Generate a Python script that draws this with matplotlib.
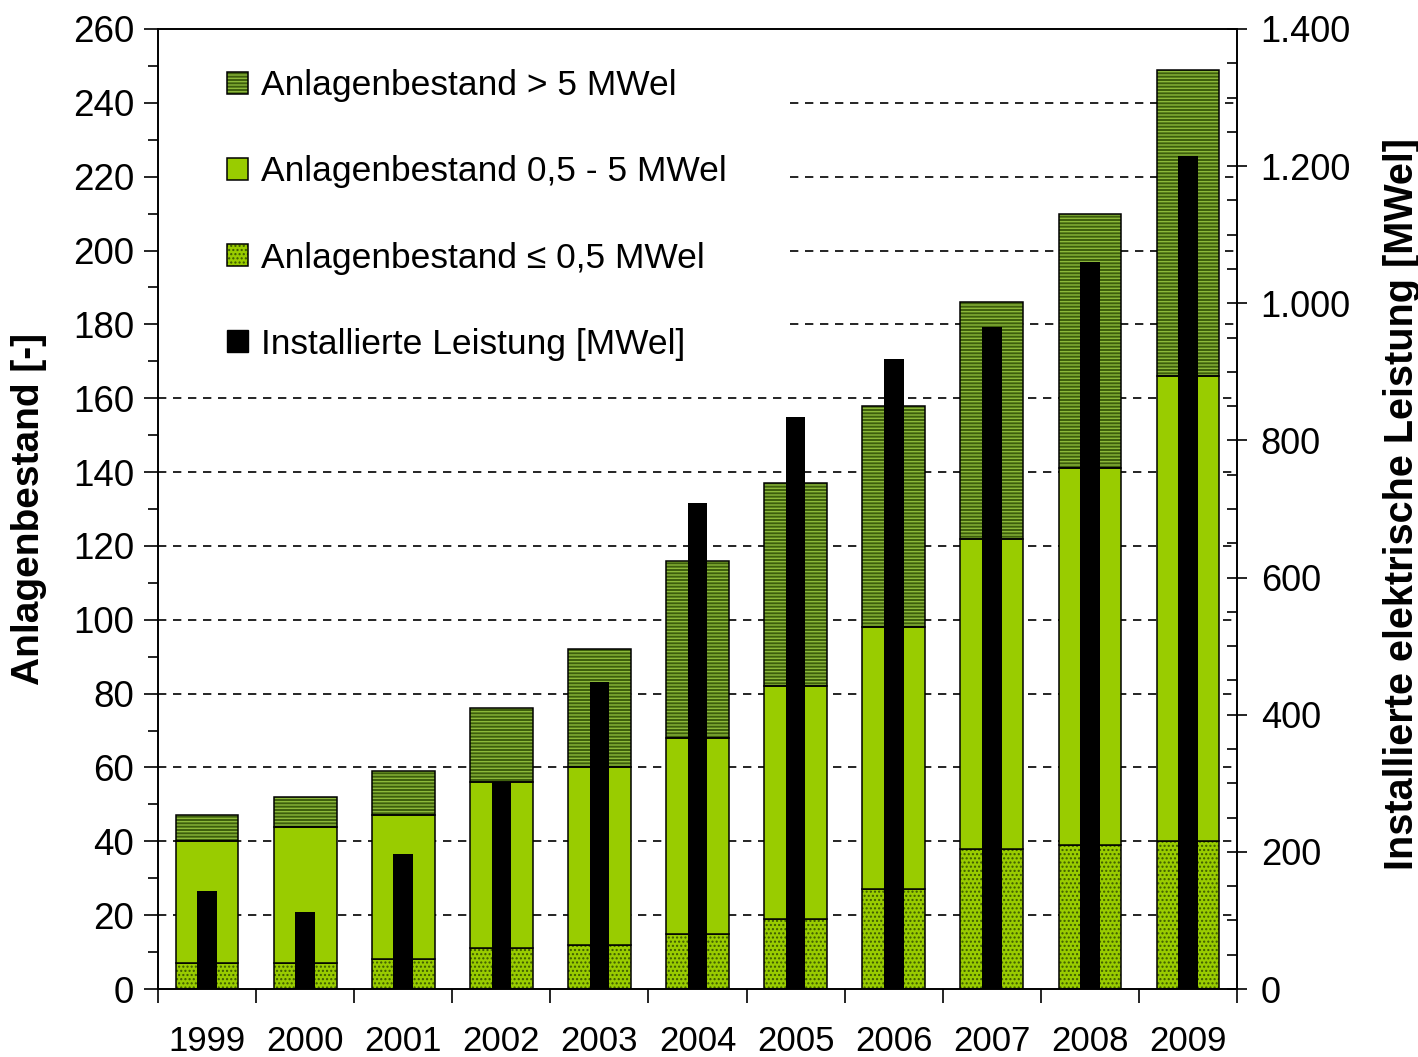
import matplotlib
matplotlib.use('Agg')
import matplotlib.pyplot as plt
import numpy as np
from matplotlib.ticker import MultipleLocator, FuncFormatter, FixedLocator
from matplotlib.patches import Patch
from matplotlib.legend_handler import HandlerTuple
from matplotlib import font_manager

# ---------------- data ----------------
years = ['1999', '2000', '2001', '2002', '2003', '2004', '2005', '2006', '2007', '2008', '2009']
small = [7, 7, 8, 11, 12, 15, 19, 27, 38, 39, 40]          # <= 0,5 MWel
mid = [33, 37, 39, 45, 48, 53, 63, 71, 84, 102, 126]       # 0,5 - 5 MWel
large = [7, 8, 12, 20, 32, 48, 55, 60, 64, 69, 83]         # > 5 MWel
installed = [143, 113, 197, 302, 448, 709, 834, 919, 965, 1060, 1215]  # MWel

labels = ['Anlagenbestand > 5 MWel', 'Anlagenbestand 0,5 - 5 MWel',
          'Anlagenbestand \u2264 0,5 MWel', 'Installierte Leistung [MWel]']

# ---------------- style ----------------
names = {f.name for f in font_manager.fontManager.ttflist}
base = 'Liberation Sans' if 'Liberation Sans' in names else 'DejaVu Sans'
narrow = 'Liberation Sans Narrow' if 'Liberation Sans Narrow' in names else base
plt.rcParams['font.family'] = [base, 'DejaVu Sans']
plt.rcParams['hatch.linewidth'] = 1.0

light_green = '#99cc00'
dark_green = '#3d5e0c'
stripe_col = '#8cb83a'
dot_col = '#3c5a00'

fig = plt.figure(figsize=(14.18, 10.57), dpi=100)
ax = fig.add_axes([0.1114, 0.0643, 0.7610, 0.9083])
ax2 = ax.twinx()

x = np.arange(len(years))
bw = 0.64
small_a = np.array(small)
mid_a = np.array(mid)
large_a = np.array(large)

# small (dotted)
ax.bar(x, small_a, bw, color=light_green, edgecolor=dot_col, hatch='....', linewidth=0, zorder=2)
ax.bar(x, small_a, bw, fill=False, edgecolor='black', linewidth=1.1, zorder=3)
# mid (plain)
ax.bar(x, mid_a, bw, bottom=small_a, color=light_green, edgecolor='black', linewidth=1.1, zorder=3)
# large (striped)
ax.bar(x, large_a, bw, bottom=small_a + mid_a, color=dark_green, edgecolor=stripe_col,
       hatch='-----', linewidth=0, zorder=2)
ax.bar(x, large_a, bw, bottom=small_a + mid_a, fill=False, edgecolor='black', linewidth=1.1, zorder=3)

# installed capacity (right axis)
ax2.bar(x, installed, 0.2, color='black', zorder=3)

# grid lines (hidden behind legend area at top-left)
for v in range(20, 260, 20):
    xmin = 0.0 if v < 170 else 0.586
    ax.axhline(v, xmin=xmin, xmax=1, color='black', linewidth=1.2,
               linestyle=(0, (5, 4)), zorder=1)

# axes limits / ticks
ax.set_xlim(-0.5, 10.5)
ax.set_ylim(0, 260)
ax2.set_ylim(0, 1400)

ax.xaxis.set_major_locator(FixedLocator(np.arange(-0.5, 11, 1)))
ax.xaxis.set_minor_locator(FixedLocator(x))
ax.set_xticklabels([], minor=False)
ax.set_xticklabels(years, minor=True)
ax.tick_params(axis='x', which='major', direction='out', length=10, width=1.2)
ax.tick_params(axis='x', which='minor', length=0, pad=26, labelsize=25)

ax.yaxis.set_major_locator(MultipleLocator(20))
ax.yaxis.set_minor_locator(MultipleLocator(10))
ax.tick_params(axis='y', which='major', direction='out', length=10, width=1.2, labelsize=26.5, pad=7)
ax.tick_params(axis='y', which='minor', direction='out', length=7, width=1.2)

ax2.yaxis.set_major_locator(MultipleLocator(200))
ax2.yaxis.set_minor_locator(MultipleLocator(50))
ax2.yaxis.set_major_formatter(FuncFormatter(lambda v, p: f"{int(v):,}".replace(',', '.')))
ax2.tick_params(axis='y', which='major', direction='inout', length=14, width=1.2, labelsize=26, pad=10)
ax2.tick_params(axis='y', which='minor', direction='in', length=7, width=1.2)

for sp in ax.spines.values():
    sp.set_linewidth(1.2)
for sp in ax2.spines.values():
    sp.set_linewidth(1.2)

ax.set_ylabel('Anlagenbestand [-]', fontsize=28, fontweight='bold', family=[narrow, base])
ax.yaxis.set_label_coords(-0.103, 0.5)
ax2.set_ylabel('Installierte elektrische Leistung [MWel]', fontsize=28.5, fontweight='bold',
               family=[narrow, base])
ax2.yaxis.set_label_coords(1.135, 0.505)

# legend
h_large = (Patch(facecolor=dark_green, edgecolor=stripe_col, hatch='-----', linewidth=0),
           Patch(fill=False, edgecolor='black', linewidth=1.1))
h_mid = Patch(facecolor=light_green, edgecolor='black', linewidth=1.1)
h_small = (Patch(facecolor=light_green, edgecolor=dot_col, hatch='....', linewidth=0),
           Patch(fill=False, edgecolor='black', linewidth=1.1))
h_inst = Patch(facecolor='black', edgecolor='black')
leg = ax2.legend([h_large, h_mid, h_small, h_inst], labels,
                 handler_map={tuple: HandlerTuple(ndivide=1)},
                 loc='upper left', bbox_to_anchor=(0.064, 0.958), frameon=False,
                 fontsize=25.5, handlelength=0.6, handleheight=0.6, handletextpad=0.35,
                 labelspacing=1.5, borderpad=0, borderaxespad=0)

fig.savefig('out.png', dpi=100)
